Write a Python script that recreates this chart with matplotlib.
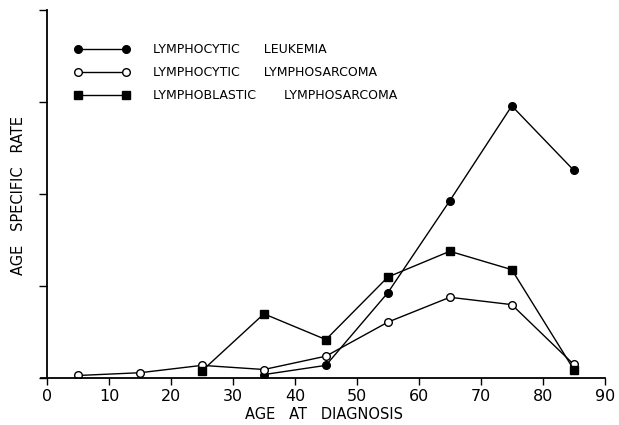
# age specific rate by age at diagnosis, three lymphoid neoplasms
import matplotlib
matplotlib.use('Agg')
from matplotlib import pyplot as plt

# age groups (midpoints)
ages_leuk = [35, 45, 55, 65, 75, 85]
ages_lcl = [5, 15, 25, 35, 45, 55, 65, 75, 85]
ages_lbl = [25, 35, 45, 55, 65, 75, 85]

# rates (arbitrary units, one unit per y tick)
lymphocytic_leukemia = [0.04, 0.14, 0.93, 1.93, 2.96, 2.26]
lymphocytic_lymphosarcoma = [0.03, 0.06, 0.14, 0.095, 0.24, 0.61, 0.88, 0.80, 0.15]
lymphoblastic_lymphosarcoma = [0.08, 0.70, 0.42, 1.10, 1.38, 1.18, 0.095]

labels = ['LYMPHOCYTIC      LEUKEMIA',
          'LYMPHOCYTIC      LYMPHOSARCOMA',
          'LYMPHOBLASTIC       LYMPHOSARCOMA']
xticks = [0, 10, 20, 30, 40, 50, 60, 70, 80, 90]
yticks = [0, 1, 2, 3, 4]

plt.rcParams['font.family'] = ['DejaVu Sans']

fig = plt.figure(figsize=(6.19, 4.25), dpi=100)
ax = fig.add_axes([0.066, 0.11, 0.916, 0.866])

lw = 1.0
ax.plot(ages_leuk, lymphocytic_leukemia, color='black', lw=lw,
        marker='o', markersize=5.5, markerfacecolor='black', label=labels[0])
ax.plot(ages_lcl, lymphocytic_lymphosarcoma, color='black', lw=lw,
        marker='o', markersize=5.5, markerfacecolor='white',
        markeredgecolor='black', markeredgewidth=1.0, label=labels[1])
ax.plot(ages_lbl, lymphoblastic_lymphosarcoma, color='black', lw=lw,
        marker='s', markersize=6, markerfacecolor='black', label=labels[2])

ax.set_xlim(-1, 90.5)
ax.set_ylim(0, 4)
ax.spines['top'].set_visible(False)
ax.spines['right'].set_visible(False)
ax.spines['left'].set_position(('data', 0))
ax.spines['left'].set_bounds(0, 4)
ax.spines['bottom'].set_bounds(-1, 90)
for s in ['left', 'bottom']:
    ax.spines[s].set_linewidth(1.3)

ax.set_xticks(xticks)
ax.set_xticklabels([str(t) for t in xticks], fontsize=11.5)
ax.set_yticks(yticks)
ax.set_yticklabels([])
ax.tick_params(axis='x', direction='out', length=5, width=1.0, pad=3)
ax.tick_params(axis='y', direction='out', length=6, width=1.0)

ax.set_xlabel('AGE   AT   DIAGNOSIS', fontsize=10.5, labelpad=2)
fig.text(0.03, 0.54, 'AGE   SPECIFIC   RATE', rotation=90, fontsize=10.5,
         ha='center', va='center')

ax.legend(loc='upper left', bbox_to_anchor=(0.12, 0.899),
          bbox_transform=fig.transFigure, frameon=False, numpoints=2,
          handlelength=4.44, handletextpad=1.86, labelspacing=0.82,
          borderpad=0, borderaxespad=0, prop={'size': 9})

fig.savefig('out.png', dpi=100)
